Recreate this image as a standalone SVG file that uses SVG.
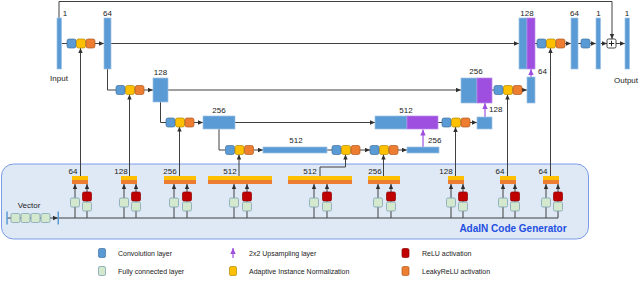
<svg xmlns="http://www.w3.org/2000/svg" xmlns:xlink="http://www.w3.org/1999/xlink" width="640" height="293" viewBox="0 0 640 293">
<style>
.conv{fill:#5b9bd5;stroke:#9dc3e6;stroke-width:0.7}
.up{fill:#9f4fe0;stroke:#b98ae8;stroke-width:0.7}
.sb{fill:#5b9bd5;stroke:#41719c;stroke-width:0.7}
.sy{fill:#ffc000;stroke:#b08a00;stroke-width:0.7}
.so{fill:#ed7d31;stroke:#ae5a21;stroke-width:0.7}
.sr{fill:#c00000;stroke:#8a0000;stroke-width:0.7}
.sg{fill:#d3e8cc;stroke:#7fa3b5;stroke-width:0.8}
.ln{fill:none;stroke:#404040;stroke-width:1}
.ar{fill:none;stroke:#404040;stroke-width:1;marker-end:url(#ah)}
.pa{fill:none;stroke:#a050e0;stroke-width:1.2;marker-end:url(#ph)}
.lb{font-family:"Liberation Sans",Arial,sans-serif;font-size:8px;fill:#222}
.lg{font-family:"Liberation Sans",Arial,sans-serif;font-size:7px;fill:#222}
.ttl{font-family:"Liberation Sans",Arial,sans-serif;font-size:10px;font-weight:bold;fill:#1f4fe0}
</style>
<defs>
<marker id="ah" markerUnits="userSpaceOnUse" markerWidth="5" markerHeight="5" refX="5" refY="2.5" orient="auto"><path d="M0,0.3 L5,2.5 L0,4.7 z" fill="#303030"/></marker>
<marker id="ph" markerUnits="userSpaceOnUse" markerWidth="6" markerHeight="6" refX="6" refY="3" orient="auto"><path d="M0,0.3 L6,3 L0,5.7 z" fill="#a050e0"/></marker>
<g id="trio">
<rect class="sb" x="0" y="0" width="9" height="9" rx="2"/>
<rect class="sy" x="9.5" y="0" width="9" height="9" rx="2"/>
<rect class="so" x="19" y="0" width="9" height="9" rx="2"/>
</g>
<g id="ada">
<rect x="0" y="0" width="16" height="4" fill="#ffc000"/>
<rect x="0" y="4" width="16" height="4" fill="#ed7d31"/>
</g>
</defs>

<!-- AdaIN generator panel -->
<g id="adain-panel">
<rect x="1.5" y="164" width="587" height="75" rx="12" fill="#dfe9f6" stroke="#7b9be6" stroke-width="1"/>
<text class="ttl" x="513" y="232" text-anchor="middle">AdaIN Code Generator</text>
</g>

<!-- connectors -->
<g id="connectors">
<!-- top skip to plus -->
<path class="ar" d="M59,18 V1.5 H612 V39"/>
<!-- main row -->
<path class="ln" d="M61.5,43.5 H67"/>
<path class="ar" d="M95,43.5 H104"/>
<path class="ar" d="M111,43.5 H519"/>
<path class="ln" d="M535,43.5 H537"/>
<path class="ar" d="M565,43.5 H571"/>
<path class="ln" d="M578,43.5 H581"/>
<path class="ar" d="M590,43.5 H596"/>
<path class="ar" d="M600.5,43.5 H607"/>
<path class="ar" d="M616,43.5 H625"/>
<!-- level 2 -->
<path class="ln" d="M107.5,69 V90 H116"/>
<path class="ar" d="M144,90 H153"/>
<path class="ar" d="M168,90 H461"/>
<path class="ln" d="M492,90 H494"/>
<path class="ar" d="M522,90 H527"/>
<!-- level 3 -->
<path class="ln" d="M160.5,102 V122.5 H166"/>
<path class="ar" d="M194,122.5 H203"/>
<path class="ar" d="M235,122.5 H375"/>
<path class="ln" d="M438,122.5 H442"/>
<path class="ar" d="M470,122.5 H477"/>
<!-- level 4 -->
<path class="ln" d="M219,129 V150 H225.5"/>
<path class="ar" d="M253.5,150 H263"/>
<path class="ln" d="M327,150 H332"/>
<path class="ar" d="M360,150 H370"/>
<path class="ar" d="M398,150 H407"/>
<!-- upsampling -->
<path class="pa" d="M423,147 V129.5"/>
<path class="pa" d="M485,117 V103"/>
<path class="pa" d="M531,77 V69"/>
<!-- AdaIN parameters to networks -->
<path class="ar" d="M80.5,176 V48"/>
<path class="ar" d="M129.5,176 V94.5"/>
<path class="ar" d="M179.5,176 V126.5"/>
<path class="ar" d="M239,176 V154.5"/>
<path class="ar" d="M320,176 V167 H345.5 V154.5"/>
<path class="ar" d="M383.5,176 V154.5"/>
<path class="ar" d="M455.5,176 V127"/>
<path class="ar" d="M507.5,176 V94.5"/>
<path class="ar" d="M550.5,176 V48"/>
<!-- bus -->
<path class="ar" d="M7,218 H58"/>
<path class="ln" d="M58,218 H558"/>
<!-- unit verticals -->
<path class="ar" d="M75,218 V184"/><path class="ar" d="M87,218 V184"/>
<path class="ar" d="M124,218 V184"/><path class="ar" d="M136,218 V184"/>
<path class="ar" d="M174,218 V184"/><path class="ar" d="M187,218 V184"/>
<path class="ar" d="M234,218 V184"/><path class="ar" d="M247,218 V184"/>
<path class="ar" d="M314,218 V184"/><path class="ar" d="M327,218 V184"/>
<path class="ar" d="M378,218 V184"/><path class="ar" d="M391,218 V184"/>
<path class="ar" d="M451,218 V184"/><path class="ar" d="M463,218 V184"/>
<path class="ar" d="M503,218 V184"/><path class="ar" d="M515,218 V184"/>
<path class="ar" d="M546,218 V184"/><path class="ar" d="M558,218 V184"/>
</g>

<!-- generator network nodes -->
<g id="input"><rect class="conv" x="57" y="18" width="4.5" height="51"/><text class="lb" x="65" y="15.5" text-anchor="middle">1</text><text class="lb" x="59" y="81" text-anchor="middle">Input</text></g>
<g id="trio1"><use xlink:href="#trio" x="67" y="39"/></g>
<g id="enc64"><rect class="conv" x="104" y="18" width="7" height="51"/><text class="lb" x="107.5" y="15.5" text-anchor="middle">64</text></g>
<g id="trio2"><use xlink:href="#trio" x="116" y="85.5"/></g>
<g id="enc128"><rect class="conv" x="153" y="78" width="15" height="24"/><text class="lb" x="160.5" y="75" text-anchor="middle">128</text></g>
<g id="trio3"><use xlink:href="#trio" x="166" y="118"/></g>
<g id="enc256"><rect class="conv" x="203" y="116" width="32" height="13"/><text class="lb" x="219" y="113" text-anchor="middle">256</text></g>
<g id="trio4"><use xlink:href="#trio" x="225.5" y="145.5"/></g>
<g id="enc512"><rect class="conv" x="263" y="147" width="64" height="6"/><text class="lb" x="296" y="143" text-anchor="middle">512</text></g>
<g id="trio5"><use xlink:href="#trio" x="332" y="145.5"/></g>
<g id="trio6"><use xlink:href="#trio" x="370" y="145.5"/></g>
<g id="dec256s"><rect class="conv" x="407" y="147" width="32" height="6"/><text class="lb" x="428" y="143">256</text></g>
<g id="dec512"><rect class="conv" x="375" y="116" width="32" height="13"/><rect class="up" x="407" y="116" width="31" height="13"/><text class="lb" x="406" y="113" text-anchor="middle">512</text></g>
<g id="trio7"><use xlink:href="#trio" x="442" y="118"/></g>
<g id="dec128s"><rect class="conv" x="477" y="117" width="15" height="12"/><text class="lb" x="489" y="112">128</text></g>
<g id="dec256"><rect class="conv" x="461" y="78" width="16" height="25"/><rect class="up" x="477" y="78" width="15" height="25"/><text class="lb" x="476" y="74" text-anchor="middle">256</text></g>
<g id="trio8"><use xlink:href="#trio" x="494" y="85.5"/></g>
<g id="dec64s"><rect class="conv" x="527" y="77" width="8" height="26"/><text class="lb" x="538" y="74">64</text></g>
<g id="dec128"><rect class="conv" x="519" y="18" width="8" height="51"/><rect class="up" x="527" y="18" width="8" height="51"/><text class="lb" x="527" y="15.5" text-anchor="middle">128</text></g>
<g id="trio9"><use xlink:href="#trio" x="537" y="39"/></g>
<g id="dec64"><rect class="conv" x="571" y="18" width="7" height="51"/><text class="lb" x="574.5" y="15.5" text-anchor="middle">64</text></g>
<g id="conv1"><rect class="sb" x="581" y="39" width="9" height="9" rx="2"/></g>
<g id="dec1"><rect class="conv" x="596" y="18" width="4.5" height="51"/><text class="lb" x="598.5" y="15.5" text-anchor="middle">1</text></g>
<g id="plus"><rect x="607" y="39" width="9" height="9" rx="1.5" fill="#fff" stroke="#303030" stroke-width="0.9"/><path d="M611.5,40.8 V46.2 M608.8,43.5 H614.2" stroke="#202020" stroke-width="1"/></g>
<g id="output"><rect class="conv" x="625" y="18" width="4.5" height="51"/><text class="lb" x="627" y="15.5" text-anchor="middle">1</text><text class="lb" x="626" y="83" text-anchor="middle">Output</text></g>

<!-- vector -->
<g id="vector">
<text class="lb" x="29" y="208" text-anchor="middle">Vector</text>
<rect x="6.3" y="211.5" width="1.5" height="13" fill="#5b9bd5"/>
<rect x="57.5" y="211.5" width="1.5" height="13" fill="#5b9bd5"/>
<rect class="sg" x="11" y="213.5" width="9" height="9" rx="1.5"/>
<rect class="sg" x="21" y="213.5" width="9" height="9" rx="1.5"/>
<rect class="sg" x="31" y="213.5" width="9" height="9" rx="1.5"/>
<rect class="sg" x="41" y="213.5" width="9" height="9" rx="1.5"/>
</g>

<!-- AdaIN units -->
<g id="unit1"><rect x="72" y="176" width="16" height="4" fill="#ffc000"/><rect x="72" y="180" width="16" height="4" fill="#ed7d31"/><text class="lb" x="73" y="174" text-anchor="middle">64</text>
<rect class="sg" x="70.5" y="198" width="9" height="9" rx="1.5"/><rect class="sr" x="82.5" y="192" width="9" height="9" rx="1.5"/><rect class="sg" x="82.5" y="202" width="9" height="9" rx="1.5"/></g>
<g id="unit2"><rect x="121" y="176" width="16" height="4" fill="#ffc000"/><rect x="121" y="180" width="16" height="4" fill="#ed7d31"/><text class="lb" x="121" y="174" text-anchor="middle">128</text>
<rect class="sg" x="119.5" y="198" width="9" height="9" rx="1.5"/><rect class="sr" x="131.5" y="192" width="9" height="9" rx="1.5"/><rect class="sg" x="131.5" y="202" width="9" height="9" rx="1.5"/></g>
<g id="unit3"><rect x="164" y="176" width="32" height="4" fill="#ffc000"/><rect x="164" y="180" width="32" height="4" fill="#ed7d31"/><text class="lb" x="170" y="174" text-anchor="middle">256</text>
<rect class="sg" x="169.5" y="198" width="9" height="9" rx="1.5"/><rect class="sr" x="182.5" y="192" width="9" height="9" rx="1.5"/><rect class="sg" x="182.5" y="202" width="9" height="9" rx="1.5"/></g>
<g id="unit4"><rect x="208" y="176" width="64" height="4" fill="#ffc000"/><rect x="208" y="180" width="64" height="4" fill="#ed7d31"/><text class="lb" x="230" y="174" text-anchor="middle">512</text>
<rect class="sg" x="229.5" y="198" width="9" height="9" rx="1.5"/><rect class="sr" x="242.5" y="192" width="9" height="9" rx="1.5"/><rect class="sg" x="242.5" y="202" width="9" height="9" rx="1.5"/></g>
<g id="unit5"><rect x="288" y="176" width="64" height="4" fill="#ffc000"/><rect x="288" y="180" width="64" height="4" fill="#ed7d31"/><text class="lb" x="310" y="174" text-anchor="middle">512</text>
<rect class="sg" x="309.5" y="198" width="9" height="9" rx="1.5"/><rect class="sr" x="322.5" y="192" width="9" height="9" rx="1.5"/><rect class="sg" x="322.5" y="202" width="9" height="9" rx="1.5"/></g>
<g id="unit6"><rect x="368" y="176" width="32" height="4" fill="#ffc000"/><rect x="368" y="180" width="32" height="4" fill="#ed7d31"/><text class="lb" x="375" y="174" text-anchor="middle">256</text>
<rect class="sg" x="373.5" y="198" width="9" height="9" rx="1.5"/><rect class="sr" x="386.5" y="192" width="9" height="9" rx="1.5"/><rect class="sg" x="386.5" y="202" width="9" height="9" rx="1.5"/></g>
<g id="unit7"><rect x="448" y="176" width="16" height="4" fill="#ffc000"/><rect x="448" y="180" width="16" height="4" fill="#ed7d31"/><text class="lb" x="446" y="174" text-anchor="middle">128</text>
<rect class="sg" x="446.5" y="198" width="9" height="9" rx="1.5"/><rect class="sr" x="458.5" y="192" width="9" height="9" rx="1.5"/><rect class="sg" x="458.5" y="202" width="9" height="9" rx="1.5"/></g>
<g id="unit8"><rect x="500" y="176" width="16" height="4" fill="#ffc000"/><rect x="500" y="180" width="16" height="4" fill="#ed7d31"/><text class="lb" x="500" y="174" text-anchor="middle">64</text>
<rect class="sg" x="498.5" y="198" width="9" height="9" rx="1.5"/><rect class="sr" x="510.5" y="192" width="9" height="9" rx="1.5"/><rect class="sg" x="510.5" y="202" width="9" height="9" rx="1.5"/></g>
<g id="unit9"><rect x="543" y="176" width="16" height="4" fill="#ffc000"/><rect x="543" y="180" width="16" height="4" fill="#ed7d31"/><text class="lb" x="543" y="174" text-anchor="middle">64</text>
<rect class="sg" x="541.5" y="198" width="9" height="9" rx="1.5"/><rect class="sr" x="553.5" y="192" width="9" height="9" rx="1.5"/><rect class="sg" x="553.5" y="202" width="9" height="9" rx="1.5"/></g>

<!-- legend -->
<g id="legend">
<rect class="sb" x="98.5" y="248.5" width="7" height="9" rx="1.5"/><text class="lg" x="118" y="256">Convolution layer</text>
<path class="pa" d="M233,258 V248"/><text class="lg" x="249" y="256">2x2 Upsampling layer</text>
<rect class="sr" x="402" y="248.5" width="7" height="9" rx="1.5"/><text class="lg" x="422" y="256">ReLU activation</text>
<rect class="sg" x="98.5" y="266.5" width="7" height="9" rx="1.5"/><text class="lg" x="118" y="274">Fully connected layer</text>
<rect class="sy" x="229.5" y="266.5" width="7" height="9" rx="1.5"/><text class="lg" x="249" y="274">Adaptive Instance Normalization</text>
<rect class="so" x="402" y="266.5" width="7" height="9" rx="1.5"/><text class="lg" x="422" y="274">LeakyReLU activation</text>
</g>
</svg>
